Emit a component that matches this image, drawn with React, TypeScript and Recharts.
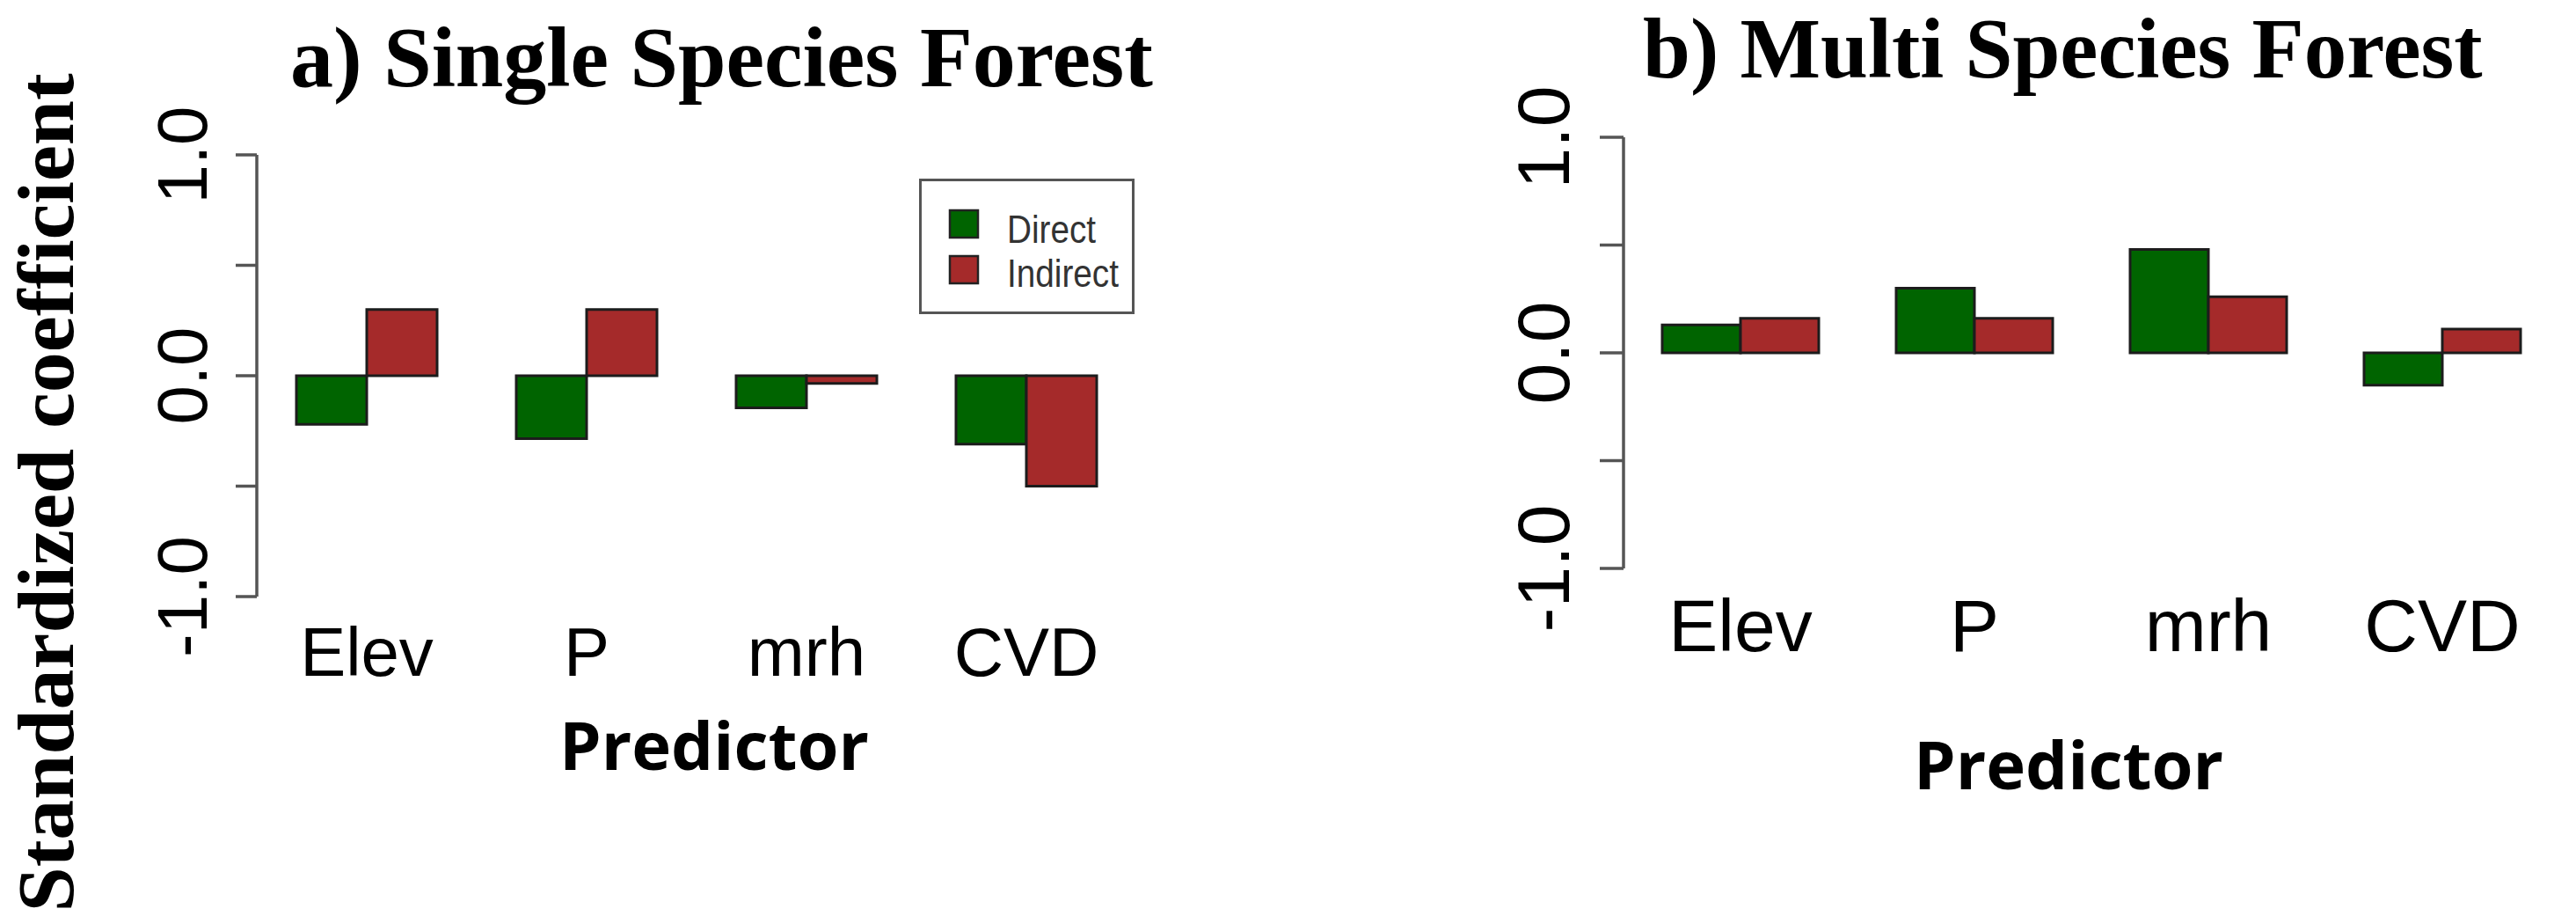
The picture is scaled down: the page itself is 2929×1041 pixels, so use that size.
import React from 'react';
import { BarChart, Bar, XAxis, YAxis, Legend } from 'recharts';

const predictors = ['Elev', 'P', 'mrh', 'CVD'];
const singleDirect = [-0.22, -0.285, -0.145, -0.31];
const singleIndirect = [0.3, 0.3, -0.035, -0.5];
const multiDirect = [0.13, 0.3, 0.48, -0.15];
const multiIndirect = [0.16, 0.16, 0.26, 0.11];
const yTicks = [-1, -0.5, 0, 0.5, 1];
const yTickLabels = [-1, 0, 1];

const singleData = predictors.map((name, i) => ({ name, Direct: singleDirect[i], Indirect: singleIndirect[i] }));
const multiData = predictors.map((name, i) => ({ name, Direct: multiDirect[i], Indirect: multiIndirect[i] }));

const SANS = '"Liberation Sans", Arial, sans-serif';
const SERIF = '"Liberation Serif", "Times New Roman", serif';
const AXIS = '#555';

const YTick = (props: any) => {
  const { x, y, payload, size } = props;
  if (!yTickLabels.includes(payload.value)) return <g />;
  return (
    <text x={x} y={y} transform={`rotate(-90 ${x} ${y})`} textAnchor="middle" fontFamily={SANS} fontSize={size} fill="#000">
      {payload.value.toFixed(1)}
    </text>
  );
};

const XTick = (props: any) => {
  const { x, y, payload, size, dy } = props;
  return (
    <text x={x} y={y + dy} textAnchor="middle" fontFamily={SANS} fontSize={size} fill="#000">
      {payload.value}
    </text>
  );
};

const LegendBox = (props: any) => {
  const items = props.payload || [];
  return (
    <svg width={245} height={154}>
      <rect x={1.5} y={1.5} width={242} height={151} fill="#fff" stroke={AXIS} strokeWidth={3} />
      {items.map((it: any, i: number) => (
        <g key={it.value}>
          <rect x={35} y={36 + i * 52} width={32} height={31} fill={it.color} stroke="#222" strokeWidth={2.5} />
          <text
            x={100}
            y={73 + i * 50}
            fontFamily={SANS}
            fontSize={44}
            fill="#333"
            textLength={it.value === 'Direct' ? 101 : 127}
            lengthAdjust="spacingAndGlyphs"
          >
            {it.value}
          </text>
        </g>
      ))}
    </svg>
  );
};

const App = () => {
  return (
    <div style={{ position: 'absolute', left: 0, top: 0, width: 2929, height: 1041, background: '#fff', overflow: 'hidden' }}>
      {/* a) single species */}
      <div style={{ position: 'absolute', left: 0, top: 0 }}>
        <BarChart
          width={1460}
          height={1041}
          data={singleData}
          margin={{ top: 176, right: 168, bottom: 303, left: 192 }}
          barCategoryGap={45}
          barGap={0}
        >
          <XAxis
            dataKey="name"
            height={60}
            axisLine={false}
            tickLine={false}
            tickSize={0}
            tickMargin={0}
            interval={0}
            tick={(p: any) => <XTick {...p} size={78} dy={90} />}
          />
          <YAxis
            type="number"
            domain={[-1, 1]}
            ticks={yTicks}
            interval={0}
            width={100}
            tickSize={24}
            tickMargin={33}
            axisLine={{ stroke: AXIS, strokeWidth: 3.5 }}
            tickLine={{ stroke: AXIS, strokeWidth: 3.5 }}
            tick={(p: any) => <YTick {...p} size={80} />}
          />
          <Legend
            layout="horizontal"
            verticalAlign="middle"
            align="center"
            content={<LegendBox />}
            wrapperStyle={{ left: 1045, top: 203, width: 245, height: 154 }}
          />
          <Bar dataKey="Direct" name="Direct" fill="#006400" stroke="#1c1c1c" strokeWidth={3} isAnimationActive={false} />
          <Bar dataKey="Indirect" name="Indirect" fill="#A52A2A" stroke="#1c1c1c" strokeWidth={3} isAnimationActive={false} />
        </BarChart>
      </div>

      {/* b) multi species */}
      <div style={{ position: 'absolute', left: 1460, top: 0 }}>
        <BarChart
          width={1469}
          height={1041}
          data={multiData}
          margin={{ top: 156, right: 19, bottom: 335, left: 286 }}
          barCategoryGap={44}
          barGap={0}
        >
          <XAxis
            dataKey="name"
            height={60}
            axisLine={false}
            tickLine={false}
            tickSize={0}
            tickMargin={0}
            interval={0}
            tick={(p: any) => <XTick {...p} size={84} dy={94} />}
          />
          <YAxis
            type="number"
            domain={[-1, 1]}
            ticks={yTicks}
            interval={0}
            width={100}
            tickSize={27}
            tickMargin={35}
            axisLine={{ stroke: AXIS, strokeWidth: 3.5 }}
            tickLine={{ stroke: AXIS, strokeWidth: 3.5 }}
            tick={(p: any) => <YTick {...p} size={84} />}
          />
          <Bar dataKey="Direct" name="Direct" fill="#006400" stroke="#1c1c1c" strokeWidth={3} isAnimationActive={false} />
          <Bar dataKey="Indirect" name="Indirect" fill="#A52A2A" stroke="#1c1c1c" strokeWidth={3} isAnimationActive={false} />
        </BarChart>
      </div>

      {/* titles and axis titles */}
      <svg width={2929} height={1041} style={{ position: 'absolute', left: 0, top: 0, pointerEvents: 'none' }}>
        <text x={330} y={98} fontFamily={SERIF} fontWeight="bold" fontSize={98} fill="#000">
          a) Single Species Forest
        </text>
        <text x={1868} y={88} fontFamily={SERIF} fontWeight="bold" fontSize={97} fill="#000">
          b) Multi Species Forest
        </text>
        <text x={83} y={560} transform="rotate(-90 83 560)" textAnchor="middle" fontFamily={SERIF} fontWeight="bold" fontSize={92} fill="#000">
          Standardized coefficient
        </text>
        <text x={812} y={875} textAnchor="middle" fontFamily='"Open Sans", sans-serif' fontWeight="bold" fontSize={76} fill="#000">
          Predictor
        </text>
        <text x={2352} y={897} textAnchor="middle" fontFamily='"Open Sans", sans-serif' fontWeight="bold" fontSize={76} fill="#000">
          Predictor
        </text>
      </svg>
    </div>
  );
};

export default App;
